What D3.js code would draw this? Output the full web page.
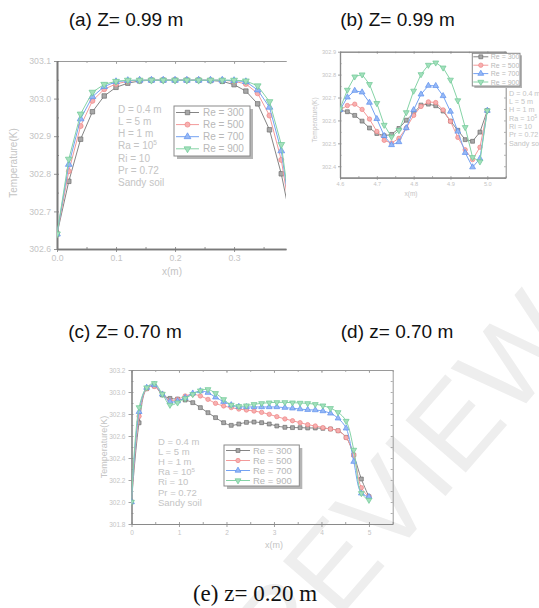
<!DOCTYPE html>
<html><head><meta charset="utf-8">
<script src="https://cdn.jsdelivr.net/npm/d3@7"></script>
<style>body{margin:0;background:#fff}svg{display:block}</style>
</head><body>
<svg id="c" width="539" height="608"></svg>
<script>
// ---------- data ----------
const seriesNames = ["Re = 300", "Re = 500", "Re = 700", "Re = 900"];
const annotLines = ["D = 0.4 m", "L = 5 m", "H = 1 m", "Ra = 10|5", "Ri = 10", "Pr = 0.72", "Sandy soil"];

// panel (a): Z = 0.99 m, x from 0 to 0.4
const xA = [0, 0.02, 0.04, 0.06, 0.08, 0.10, 0.12, 0.14, 0.16, 0.18, 0.20, 0.22, 0.24, 0.26, 0.28, 0.30, 0.32, 0.34, 0.36, 0.38, 0.40];
const a300 = [302.640, 302.780, 302.892, 302.965, 303.007, 303.030, 303.041, 303.047, 303.049, 303.049, 303.049, 303.049, 303.049, 303.048, 303.046, 303.037, 303.020, 302.986, 302.917, 302.800, 302.645];
const a500 = [302.640, 302.807, 302.927, 302.994, 303.025, 303.039, 303.046, 303.049, 303.049, 303.049, 303.049, 303.049, 303.049, 303.049, 303.049, 303.046, 303.039, 303.014, 302.955, 302.837, 302.645];
const a700 = [302.640, 302.825, 302.946, 303.005, 303.032, 303.045, 303.048, 303.049, 303.049, 303.049, 303.049, 303.049, 303.049, 303.049, 303.049, 303.048, 303.045, 303.023, 302.977, 302.861, 302.645];
const a900 = [302.640, 302.839, 302.959, 303.017, 303.038, 303.046, 303.049, 303.049, 303.049, 303.049, 303.049, 303.049, 303.049, 303.049, 303.049, 303.049, 303.047, 303.034, 302.992, 302.878, 302.645];
const xTicksA = [0, 0.1, 0.2, 0.3];
const yTicksA = [302.6, 302.7, 302.8, 302.9, 303.0, 303.1];

// panel (b): Z = 0.99 m, x from 4.6 to 5.0
const xB = [4.60, 4.62, 4.64, 4.66, 4.68, 4.70, 4.72, 4.74, 4.76, 4.78, 4.80, 4.82, 4.84, 4.86, 4.88, 4.90, 4.92, 4.94, 4.96, 4.98, 5.00];
const b300 = [302.645, 302.638, 302.622, 302.597, 302.567, 302.543, 302.533, 302.539, 302.565, 302.601, 302.632, 302.667, 302.671, 302.664, 302.641, 302.597, 302.557, 302.516, 302.509, 302.549, 302.643];
const b500 = [302.646, 302.665, 302.671, 302.648, 302.606, 302.552, 302.513, 302.501, 302.522, 302.567, 302.622, 302.661, 302.681, 302.678, 302.646, 302.596, 302.526, 302.472, 302.429, 302.483, 302.643];
const b700 = [302.646, 302.701, 302.730, 302.723, 302.678, 302.607, 302.533, 302.493, 302.506, 302.567, 302.646, 302.714, 302.752, 302.751, 302.707, 302.639, 302.552, 302.459, 302.396, 302.433, 302.643];
const b900 = [302.651, 302.733, 302.791, 302.800, 302.758, 302.675, 302.580, 302.528, 302.557, 302.635, 302.729, 302.801, 302.842, 302.852, 302.830, 302.777, 302.687, 302.570, 302.439, 302.420, 302.643];
const xTicksB = [4.6, 4.7, 4.8, 4.9, 5.0];
const yTicksB = [302.4, 302.5, 302.6, 302.7, 302.8, 302.9];

// panel (e): z = 0.20 m, x from 0 to 5
const xE = [0, 0.16, 0.32, 0.48, 0.65, 0.81, 0.97, 1.13, 1.29, 1.45, 1.61, 1.77, 1.94, 2.10, 2.26, 2.42, 2.58, 2.74, 2.90, 3.06, 3.23, 3.39, 3.55, 3.71, 3.87, 4.03, 4.19, 4.35, 4.52, 4.68, 4.84, 5.00];
const e300 = [302.00, 302.72, 303.03, 303.055, 302.973, 302.942, 302.936, 302.927, 302.903, 302.858, 302.812, 302.767, 302.721, 302.697, 302.709, 302.724, 302.727, 302.721, 302.709, 302.691, 302.679, 302.676, 302.676, 302.673, 302.673, 302.670, 302.664, 302.648, 302.588, 302.427, 302.209, 302.048];
const e500 = [302.00, 302.78, 303.03, 303.05, 302.982, 302.921, 302.933, 302.964, 302.979, 302.964, 302.933, 302.897, 302.873, 302.858, 302.845, 302.836, 302.827, 302.815, 302.797, 302.776, 302.755, 302.739, 302.721, 302.703, 302.691, 302.676, 302.664, 302.648, 302.585, 302.427, 302.130, 302.048];
const e700 = [302.00, 302.82, 303.04, 303.064, 302.979, 302.912, 302.918, 302.948, 302.988, 303.009, 302.994, 302.952, 302.912, 302.882, 302.867, 302.864, 302.864, 302.864, 302.864, 302.864, 302.858, 302.852, 302.845, 302.839, 302.836, 302.827, 302.806, 302.761, 302.670, 302.367, 302.079, 302.048];
const e900 = [302.00, 302.86, 303.04, 303.079, 302.982, 302.882, 302.903, 302.942, 302.979, 303.012, 303.024, 302.988, 302.933, 302.882, 302.870, 302.876, 302.888, 302.897, 302.903, 302.906, 302.906, 302.903, 302.900, 302.897, 302.888, 302.876, 302.852, 302.815, 302.736, 302.473, 302.079, 302.018];
const xTicksE = [0, 1, 2, 3, 4, 5];
const yTicksE = [301.8, 302.0, 302.2, 302.4, 302.6, 302.8, 303.0, 303.2];

const titles = ["(a) Z= 0.99 m", "(b) Z= 0.99 m", "(c) Z= 0.70 m", "(d) z= 0.70 m", "(e) z= 0.20 m"];

// ---------- styles ----------
const SANS = "'Liberation Sans', Arial, sans-serif";
const SERIF = "'Liberation Serif', 'Times New Roman', serif";
const lineCol = ["#858585", "#f39a9a", "#74a2f2", "#85d3a6"];
const fillCol = ["#a8a8a8", "#f7b0b0", "#95b8f6", "#a3e0bd"];
const strokeCol = ["#6e6e6e", "#ef8585", "#5f90ee", "#6fc895"];
const symbols = [d3.symbolSquare, d3.symbolCircle, d3.symbolTriangle, d3.symbolTriangle];
const symRot = [0, 0, 0, 180];
const txtCol = "#c4c4c4";

const svg = d3.select("#c");

// watermark
svg.append("text").attr("x", 0).attr("y", 0)
  .attr("transform", "translate(282,684) rotate(-49)")
  .attr("font-family", SANS).attr("font-size", 116).attr("fill", "#eeeeee")
  .text("REVIEW");

function drawPanel(c) {
  const g = svg.append("g");
  const x = d3.scaleLinear().domain(c.xd).range([c.l, c.r]);
  const y = d3.scaleLinear().domain(c.yd).range([c.b, c.t]);
  const cid = "clip" + c.name;
  svg.append("clipPath").attr("id", cid).append("rect")
    .attr("x", c.l).attr("y", c.t - 6).attr("width", c.r - c.l).attr("height", c.b - c.t + 12);

  const styleAxis = (sel, col, w) => {
    sel.select(".domain").attr("stroke", col).attr("stroke-width", w);
    sel.selectAll(".tick line").attr("stroke", col).attr("stroke-width", 0.8);
    sel.selectAll(".tick text").attr("fill", txtCol).attr("font-family", SANS).attr("font-size", c.tf);
  };
  const minorX = d3.range(c.xd[0], c.xd[1] + 1e-9, c.xm);
  const minorY = d3.range(c.yd[0], c.yd[1] + 1e-9, c.ym);

  // top axis
  const ta = g.append("g").attr("transform", `translate(0,${c.t})`)
    .call(d3.axisTop(x).tickValues(minorX).tickFormat("").tickSizeInner(-c.mt).tickSizeOuter(0));
  styleAxis(ta, c.frameCol, 1);
  const ta2 = g.append("g").attr("transform", `translate(0,${c.t})`)
    .call(d3.axisTop(x).tickValues(c.xt).tickFormat("").tickSizeInner(-c.tl).tickSizeOuter(0));
  styleAxis(ta2, c.frameCol, 1);
  // right axis
  if (c.rightFrame) {
    const ra = g.append("g").attr("transform", `translate(${c.r},0)`)
      .call(d3.axisRight(y).tickValues(minorY).tickFormat("").tickSizeInner(-c.mt).tickSizeOuter(0));
    styleAxis(ra, c.frameCol, 1);
  }
  // bottom axis
  const bm = g.append("g").attr("transform", `translate(0,${c.b})`)
    .call(d3.axisBottom(x).tickValues(minorX).tickFormat("").tickSizeInner(-c.mt).tickSizeOuter(0));
  styleAxis(bm, c.axisCol, c.aw);
  const ba = g.append("g").attr("transform", `translate(0,${c.b})`)
    .call(d3.axisBottom(x).tickValues(c.xt).tickFormat(d3.format(c.xfmt)).tickSizeInner(c.tl).tickSizeOuter(0).tickPadding(c.tp));
  styleAxis(ba, c.axisCol, c.aw);
  // left axis
  const lm = g.append("g").attr("transform", `translate(${c.l},0)`)
    .call(d3.axisLeft(y).tickValues(minorY).tickFormat("").tickSizeInner(-c.mt).tickSizeOuter(0));
  styleAxis(lm, c.axisCol, c.aw);
  const la = g.append("g").attr("transform", `translate(${c.l},0)`)
    .call(d3.axisLeft(y).tickValues(c.yt).tickFormat(d3.format(c.yfmt)).tickSizeInner(c.tl).tickSizeOuter(0).tickPadding(c.tp));
  styleAxis(la, c.axisCol, c.aw);

  // axis titles
  g.append("text").attr("x", c.xlx).attr("y", c.xly).attr("text-anchor", "middle")
    .attr("font-family", SANS).attr("font-size", c.lf).attr("fill", txtCol).text("x(m)");
  g.append("text").attr("transform", `translate(${c.ylx},${c.yly}) rotate(-90)`).attr("text-anchor", "middle")
    .attr("font-family", SANS).attr("font-size", c.lf).attr("fill", txtCol).text("Temperature(K)");

  // series
  const plot = g.append("g").attr("clip-path", `url(#${cid})`);
  c.series.forEach((ys, k) => {
    const pts = c.xs.map((xv, i) => [xv, ys[i]]);
    const line = d3.line().x(d => x(d[0])).y(d => y(d[1]));
    if (c.curve) line.curve(c.curve);
    plot.append("path").attr("d", line(pts)).attr("fill", "none")
      .attr("stroke", lineCol[k]).attr("stroke-width", 1);
    const sym = d3.symbol().type(symbols[k]).size(c.ms);
    plot.selectAll(null).data(pts).enter().append("path")
      .attr("d", sym)
      .attr("transform", d => `translate(${x(d[0])},${y(d[1])}) rotate(${symRot[k]})`)
      .attr("fill", fillCol[k]).attr("stroke", strokeCol[k]).attr("stroke-width", 0.7);
  });

  // legend
  const L = c.leg;
  g.append("rect").attr("x", L.x + L.sh).attr("y", L.y + L.sh).attr("width", L.w).attr("height", L.h).attr("fill", "#b5b5b5");
  g.append("rect").attr("x", L.x).attr("y", L.y).attr("width", L.w).attr("height", L.h)
    .attr("fill", "#fff").attr("stroke", "#8a8a8a").attr("stroke-width", 1);
  seriesNames.forEach((nm, k) => {
    const ry = L.y + L.r0 + k * L.dy;
    g.append("line").attr("x1", L.x + L.lx0).attr("x2", L.x + L.lx1).attr("y1", ry).attr("y2", ry)
      .attr("stroke", lineCol[k]).attr("stroke-width", 1);
    g.append("path").attr("d", d3.symbol().type(symbols[k]).size(c.ms)())
      .attr("transform", `translate(${L.x + (L.lx0 + L.lx1) / 2},${ry}) rotate(${symRot[k]})`)
      .attr("fill", fillCol[k]).attr("stroke", strokeCol[k]).attr("stroke-width", 0.7);
    g.append("text").attr("x", L.x + L.tx).attr("y", ry + L.fs * 0.36)
      .attr("font-family", SANS).attr("font-size", L.fs).attr("fill", "#b8b8b8").text(nm);
  });

  // annotation
  const A = c.ann;
  annotLines.forEach((s, i) => {
    const t = g.append("text").attr("x", A.x).attr("y", A.y + i * A.dy)
      .attr("font-family", SANS).attr("font-size", A.fs).attr("fill", txtCol);
    const parts = s.split("|");
    t.append("tspan").text(parts[0]);
    if (parts[1]) t.append("tspan").attr("dy", -A.fs * 0.4).attr("font-size", A.fs * 0.65).text(parts[1]);
  });
}

// (a)
drawPanel({
  name: "a", xs: xA, series: [a300, a500, a700, a900],
  l: 57, r: 286, t: 61, b: 249, xd: [0, 0.388], yd: [302.6, 303.1],
  xt: xTicksA, yt: yTicksA, xm: 0.05, ym: 0.05, xfmt: ".1f", yfmt: ".1f",
  tl: 3, mt: 2, tp: 3, tf: 8.7, lf: 10,
  axisCol: "#7a7a7a", aw: 1.6, frameCol: "#9a9a9a", rightFrame: false,
  xlx: 172, xly: 275, ylx: 17, yly: 163,
  ms: 20,
  leg: { x: 174, y: 106, w: 76, h: 50, sh: 3, r0: 6.5, dy: 12.1, lx0: 2, lx1: 25, tx: 29, fs: 10 },
  ann: { x: 118, y: 112.5, dy: 12.3, fs: 10 }
});

// (b)
drawPanel({
  name: "b", xs: xB, series: [b300, b500, b700, b900],
  l: 340, r: 505.7, t: 51.7, b: 177.7, xd: [4.6, 5.05], yd: [302.35, 302.9],
  xt: xTicksB, yt: yTicksB, xm: 0.05, ym: 0.05, xfmt: ".1f", yfmt: ".1f",
  tl: 2, mt: 1.5, tp: 2, tf: 5.6, lf: 6.5,
  axisCol: "#8a8a8a", aw: 1.2, frameCol: "#8a8a8a", rightFrame: true,
  xlx: 411, xly: 196, ylx: 317, yly: 120,
  ms: 15,
  leg: { x: 472.3, y: 53.3, w: 47.7, h: 32.7, sh: 2, r0: 3.5, dy: 8.4, lx0: 1, lx1: 16, tx: 18.5, fs: 7 },
  ann: { x: 509, y: 95.8, dy: 8.3, fs: 7.2 }
});

// (e)
drawPanel({
  name: "e", xs: xE, series: [e300, e500, e700, e900],
  l: 131.5, r: 392.7, t: 370, b: 524, xd: [0, 5.5], yd: [301.8, 303.2],
  xt: xTicksE, yt: yTicksE, xm: 0.5, ym: 0.1, xfmt: "d", yfmt: ".1f",
  tl: 3, mt: 2, tp: 3, tf: 6.5, lf: 9,
  axisCol: "#8a8a8a", aw: 1.2, frameCol: "#9a9a9a", rightFrame: true,
  xlx: 274, xly: 548, ylx: 107, yly: 447,
  ms: 15, curve: d3.curveCatmullRom.alpha(0.5),
  leg: { x: 224, y: 445, w: 75.3, h: 41, sh: 3, r0: 5.5, dy: 10, lx0: 2, lx1: 26, tx: 29, fs: 9.5 },
  ann: { x: 158, y: 445, dy: 10.1, fs: 9.5 }
});

// titles
const tpos = [[126, 26], [397.5, 26], [125, 337.5], [397, 337.5]];
tpos.forEach((p, i) => {
  svg.append("text").attr("x", p[0]).attr("y", p[1]).attr("text-anchor", "middle")
    .attr("font-family", SANS).attr("font-size", 19).attr("fill", "#111").text(titles[i]);
});
svg.append("text").attr("x", 255).attr("y", 601).attr("text-anchor", "middle")
  .attr("font-family", SERIF).attr("font-size", 23).attr("fill", "#111").text(titles[4]);
</script>
</body></html>
